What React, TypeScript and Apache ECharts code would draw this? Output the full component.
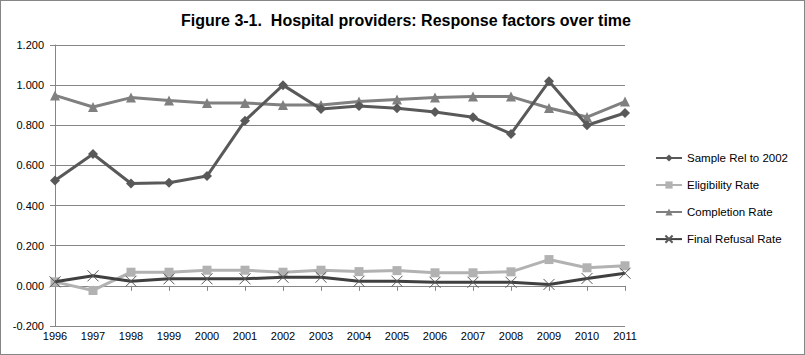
import React, { useEffect, useRef } from "react";
import * as echarts from "echarts";

const years = ["1996","1997","1998","1999","2000","2001","2002","2003","2004","2005","2006","2007","2008","2009","2010","2011"];
const sampleRel = [0.525,0.657,0.510,0.514,0.547,0.823,1.000,0.881,0.896,0.885,0.866,0.840,0.757,1.019,0.800,0.861];
const eligibility = [0.020,-0.023,0.068,0.068,0.078,0.078,0.068,0.078,0.071,0.076,0.065,0.065,0.070,0.131,0.090,0.100];
const completion = [0.949,0.891,0.938,0.923,0.911,0.911,0.901,0.901,0.918,0.929,0.939,0.943,0.943,0.886,0.841,0.918];
const refusal = [0.020,0.050,0.023,0.035,0.035,0.035,0.043,0.043,0.023,0.023,0.018,0.018,0.018,0.007,0.037,0.063];

const FONT = "Liberation Sans";

export default function App() {
  const ref = useRef<HTMLDivElement>(null);
  useEffect(() => {
    document.body.style.margin = "0";
    const chart = echarts.init(ref.current!, null, { renderer: "svg" });
    const mk = (name: string, data: number[], color: string, symbol: string, size: number, extra: any = {}) => ({
      name,
      type: "line",
      data,
      symbol,
      symbolSize: size,
      showAllSymbol: true,
      lineStyle: { color, width: 3 },
      itemStyle: { color },
      z: extra.z ?? 2,
      ...extra,
    });
    chart.setOption({
      animation: false,
      title: {
        text: "Figure 3-1.  Hospital providers: Response factors over time",
        left: 401,
        textAlign: "center",
        top: 7,
        textStyle: { fontFamily: FONT, fontWeight: "bold", fontSize: 16, color: "#000" },
      },
      legend: {
        orient: "vertical",
        left: 650,
        top: 147,
        itemWidth: 26,
        itemHeight: 9,
        itemGap: 15,
        textStyle: { fontFamily: FONT, fontSize: 11.5, color: "#000" },
        data: ["Sample Rel to 2002", "Eligibility Rate", "Completion Rate", "Final Refusal Rate"],
      },
      grid: { left: 55, right: 180, top: 45, bottom: 29 },
      xAxis: {
        type: "category",
        data: years,
        boundaryGap: false,
        axisLine: { lineStyle: { color: "#868686" } },
        axisTick: { show: true, length: 5, lineStyle: { color: "#868686" } },
        axisLabel: { fontFamily: FONT, fontSize: 11, color: "#000", margin: 4 },
      },
      yAxis: {
        type: "value",
        min: -0.2,
        max: 1.2,
        interval: 0.2,
        axisLine: { show: true, lineStyle: { color: "#868686" } },
        axisTick: { show: true, length: 5, lineStyle: { color: "#868686" } },
        splitLine: { lineStyle: { color: "#868686" } },
        axisLabel: {
          fontFamily: FONT, fontSize: 11, color: "#000", margin: 11,
          formatter: (v: number) => v.toFixed(3),
        },
      },
      series: [
        mk("Sample Rel to 2002", sampleRel, "#595959", "diamond", 10, { z: 4 }),
        mk("Eligibility Rate", eligibility, "#b2b2b2", "rect", 9, { z: 2 }),
        mk("Completion Rate", completion, "#808080", "triangle", 10, { z: 3 }),
        {
          ...mk("Final Refusal Rate", refusal, "#404040", "path://M0,0L10,10M10,0L0,10", 11, { z: 3 }),
          itemStyle: { color: "none", borderColor: "#595959", borderWidth: 1 },
        },
      ],
    });
    return () => chart.dispose();
  }, []);
  return (
    <div style={{ position: "absolute", left: 0, top: 0, width: 805, height: 355, boxSizing: "border-box", border: "1px solid #868686", background: "#fff" }}>
      <div ref={ref} style={{ position: "absolute", left: -1, top: -1, width: 805, height: 355 }} />
    </div>
  );
}
